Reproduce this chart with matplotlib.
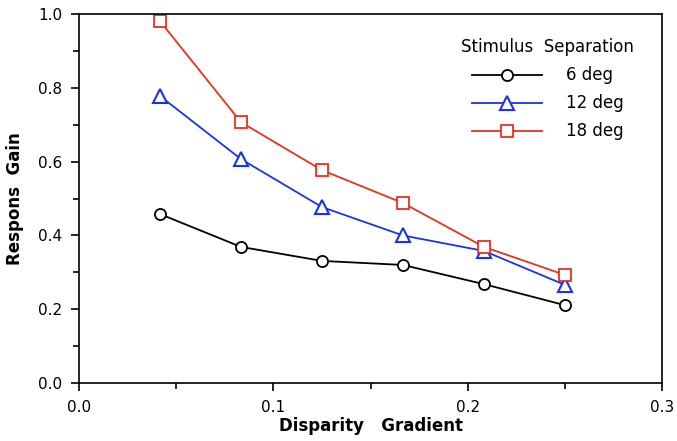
import matplotlib
matplotlib.use("Agg")
import matplotlib.pyplot as plt
from matplotlib.ticker import MultipleLocator

gradient = [1 / 24, 2 / 24, 3 / 24, 4 / 24, 5 / 24, 6 / 24]
gain_6 = [0.458, 0.369, 0.331, 0.320, 0.268, 0.211]
gain_12 = [0.778, 0.607, 0.477, 0.400, 0.358, 0.266]
gain_18 = [0.981, 0.707, 0.577, 0.488, 0.369, 0.293]
labels = ["6 deg", "12 deg", "18 deg"]

BLACK = "#000000"
BLUE = "#1a33e6"
RED = "#e8321e"

fig = plt.figure(figsize=(6.77, 4.41), dpi=100)
fig.patch.set_facecolor("white")
ax = fig.add_axes([0.1167, 0.1315, 0.8613, 0.8365])

ax.plot(gradient, gain_6, color=BLACK, lw=1.3, marker="o", ms=8,
        mfc="white", mec=BLACK, mew=1.3, label=labels[0])
ax.plot(gradient, gain_12, color=BLUE, lw=1.3, marker="^", ms=10,
        mfc="white", mec=BLUE, mew=1.5, label=labels[1])
ax.plot(gradient, gain_18, color=RED, lw=1.3, marker="s", ms=8,
        mfc="white", mec=RED, mew=1.3, label=labels[2])

ax.set_xlim(0, 0.3)
ax.set_ylim(0, 1.0)
ax.xaxis.set_major_locator(MultipleLocator(0.1))
ax.xaxis.set_minor_locator(MultipleLocator(0.05))
ax.yaxis.set_major_locator(MultipleLocator(0.2))
ax.yaxis.set_minor_locator(MultipleLocator(0.1))
ax.xaxis.set_major_formatter(plt.FuncFormatter(lambda v, p: f"{v:.1f}"))
ax.yaxis.set_major_formatter(plt.FuncFormatter(lambda v, p: f"{v:.1f}"))
ax.tick_params(which="major", direction="out", length=6, width=1.2,
               labelsize=11, pad=6)
ax.tick_params(which="minor", direction="out", length=4, width=1.2)
for s in ax.spines.values():
    s.set_linewidth(1.2)

ax.set_xlabel("Disparity   Gradient", fontsize=12, fontweight="bold", labelpad=2)
ax.set_ylabel("Respons  Gain", fontsize=12, fontweight="bold", labelpad=10)

leg = ax.legend(title="Stimulus  Separation", loc="upper left",
                bbox_to_anchor=(0.63, 0.975), frameon=False, fontsize=12,
                title_fontsize=12, handlelength=4.2, handletextpad=1.4,
                labelspacing=0.6)
leg.get_title().set_y(0)

fig.savefig("out.png", dpi=100)
